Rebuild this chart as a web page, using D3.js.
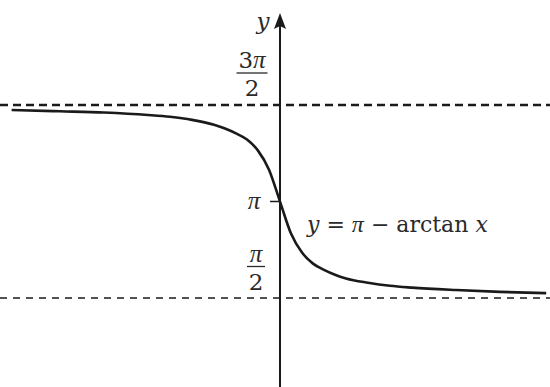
<!DOCTYPE html>
<html>
<head>
<meta charset="utf-8">
<script src="https://cdn.jsdelivr.net/npm/d3@7"></script>
<style>
  html, body { margin: 0; padding: 0; background: #fff; }
  svg { display: block; }
  text { font-family: "DejaVu Serif", "Liberation Serif", serif; fill: #2a2a2a; }
  .pi { font-family: "Liberation Serif", serif; font-style: italic; }
</style>
</head>
<body>
<svg id="chart" width="550" height="387"></svg>
<script>
// Curve samples: y = π − arctan x
const xValues = [-12.2, -10, -8, -6, -5, -4, -3, -2.5, -2, -1.5, -1, -0.5, 0, 0.5, 1, 1.5, 2, 2.5, 3, 4, 5, 6, 8, 10, 12.1];
const yValues = [4.63, 4.61, 4.59, 4.55, 4.52, 4.47, 4.39, 4.33, 4.25, 4.15, 3.97, 3.66, 3.14, 2.62, 2.31, 2.13, 2.03, 1.95, 1.89, 1.82, 1.77, 1.74, 1.70, 1.67, 1.65];
// Tick values and their labels (fractions: numerator / denominator)
const tickValues = [Math.PI / 2, Math.PI, 3 * Math.PI / 2];
const tickCoefficients = ["", "", "3"];
const tickDenominators = ["2", "", "2"];
// Horizontal asymptotes
const asymptotes = [3 * Math.PI / 2, Math.PI / 2];

const svg = d3.select("#chart");
const W = 550, H = 387;

const x = d3.scaleLinear().domain([-12.5, 12.5]).range([5, 555]);
const y = d3.scaleLinear().domain([Math.PI / 2, 3 * Math.PI / 2]).range([298, 105]);

const x0 = x(0);

// asymptote dashed lines
svg.selectAll("line.asym").data(asymptotes).enter().append("line")
  .attr("class", "asym")
  .attr("x1", 0).attr("x2", W)
  .attr("y1", d => y(d)).attr("y2", d => y(d))
  .attr("stroke", "#1a1a1a")
  .attr("stroke-width", (d, i) => i === 0 ? 2.4 : 1.5)
  .attr("stroke-dasharray", (d, i) => i === 0 ? "8,5" : "7,6");

// vertical axis
svg.append("line")
  .attr("x1", x0).attr("x2", x0)
  .attr("y1", 24).attr("y2", H)
  .attr("stroke", "#1a1a1a").attr("stroke-width", 2);

// arrow head
svg.append("path")
  .attr("d", `M${x0},13 L${x0 - 6},29 L${x0},26 L${x0 + 6},29 Z`)
  .attr("fill", "#1a1a1a");

// axis label
svg.append("text")
  .attr("x", 263).attr("y", 29)
  .attr("text-anchor", "middle")
  .attr("font-size", 23).attr("font-style", "italic")
  .text("y");

// tick at π
svg.append("line")
  .attr("x1", x0 - 10).attr("x2", x0)
  .attr("y1", y(Math.PI)).attr("y2", y(Math.PI))
  .attr("stroke", "#1a1a1a").attr("stroke-width", 1.5);

// tick labels
const tickG = svg.selectAll("g.tick").data(tickValues).enter().append("g").attr("class", "tick");
tickG.each(function(d, i) {
  const g = d3.select(this);
  const cy = y(d);
  if (tickDenominators[i] === "") {
    g.append("text")
      .attr("class", "pi")
      .attr("x", 254).attr("y", cy + 7)
      .attr("text-anchor", "middle")
      .attr("font-size", 25)
      .text("π");
  } else {
    const cx = i === 0 ? 256 : 252;
    const barY = i === 0 ? cy - 31.5 : cy - 32;
    const t = g.append("text")
      .attr("x", cx).attr("y", barY - 5)
      .attr("text-anchor", "middle")
      .attr("font-size", 23);
    if (tickCoefficients[i]) t.append("tspan").text(tickCoefficients[i]);
    t.append("tspan").attr("class", "pi").attr("font-size", 25).text("π");
    const bw = i === 0 ? 18 : 31;
    g.append("line")
      .attr("x1", cx - bw / 2).attr("x2", cx + bw / 2)
      .attr("y1", barY).attr("y2", barY)
      .attr("stroke", "#2a2a2a").attr("stroke-width", 1.3);
    g.append("text")
      .attr("x", cx).attr("y", barY + 23)
      .attr("text-anchor", "middle")
      .attr("font-size", 23)
      .text(tickDenominators[i]);
  }
});

// curve
const pts = xValues.map((v, i) => [v, yValues[i]]);
svg.append("path")
  .datum(pts)
  .attr("d", d3.line().x(d => x(d[0])).y(d => y(d[1])).curve(d3.curveMonotoneX))
  .attr("fill", "none")
  .attr("stroke", "#1a1a1a")
  .attr("stroke-width", 2.6);

// curve label
const lab = svg.append("text")
  .attr("x", 307).attr("y", 232)
  .attr("font-size", 22);
lab.append("tspan").attr("font-style", "italic").text("y");
lab.append("tspan").text(" = ");
lab.append("tspan").attr("class", "pi").attr("font-size", 24).text("π");
lab.append("tspan").text(" − arctan ");
lab.append("tspan").attr("font-style", "italic").text("x");
</script>
</body>
</html>
